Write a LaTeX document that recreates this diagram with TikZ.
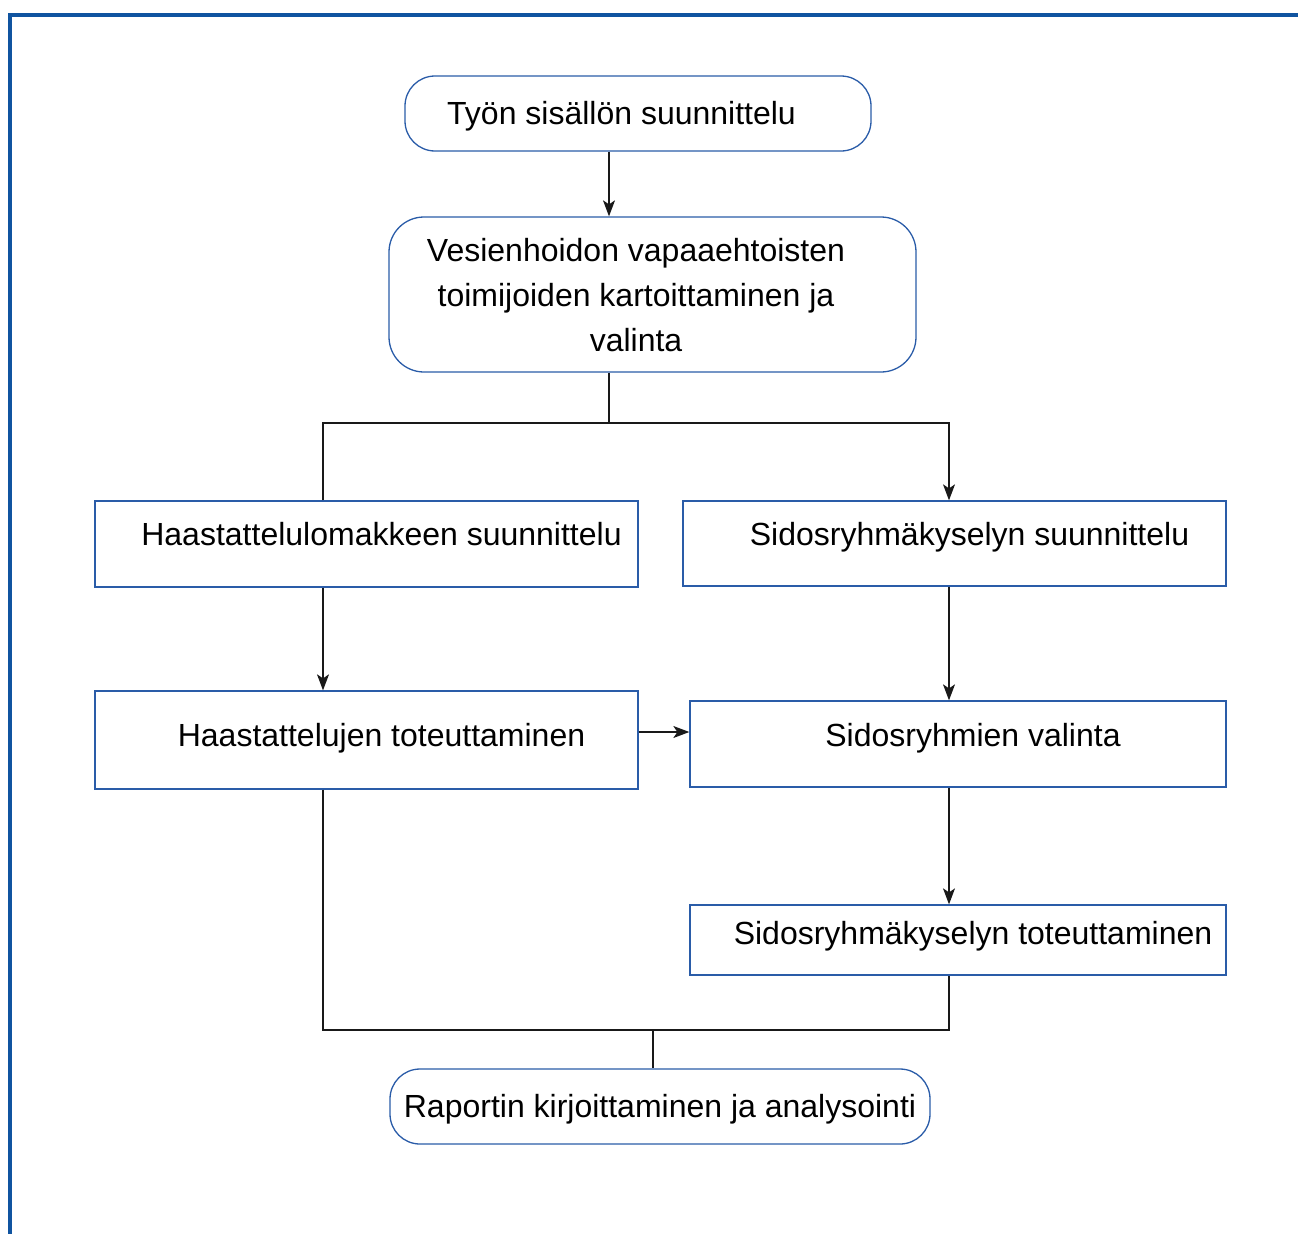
\documentclass[tikz,border=0pt]{standalone}
\usepackage{fontspec}
\setmainfont{Liberation Sans}
\usetikzlibrary{arrows.meta}
\definecolor{frameblue}{RGB}{16,84,160}
\definecolor{boxblue}{RGB}{42,92,168}
\tikzset{
  box/.style={draw=boxblue,line width=1.3pt,rectangle,inner sep=0pt,
    text depth=0pt,font=\fontsize{32}{45}\selectfont},
  roundbox/.style={box,rounded corners=30pt},
  link/.style={line width=1.3pt,black!90},
  >={Stealth[length=16pt,width=12pt,inset=4pt]}
}
\begin{document}
\begin{tikzpicture}[x=1pt,y=-1pt]
\useasboundingbox (0,0) rectangle (1298,1234);
\draw[frameblue,line width=3.5pt] (1298,15)--(10,15)--(10,1234);
% vaiheet
\node[roundbox,minimum width=466pt,minimum height=75pt,text height=22pt] (n1) at (638,113.5) {Työn sisällön suunnittelu\rule{33pt}{0pt}};
\node[roundbox,rounded corners=35pt,minimum width=527pt,minimum height=155pt,text height=19.4pt] (n2) at (652.5,294.5)
  {\begin{tabular}{@{}c@{}}Vesienhoidon vapaaehtoisten\\toimijoiden kartoittaminen ja\\valinta\end{tabular}\rule{33pt}{0pt}};
\node[box,minimum width=543pt,minimum height=86pt,text height=2pt] (n3) at (366.5,544) {\hspace{30pt}Haastattelulomakkeen suunnittelu};
\node[box,minimum width=543pt,minimum height=85pt,text height=3pt] (n4) at (954.5,543.5) {\hspace{30pt}Sidosryhmäkyselyn suunnittelu};
\node[box,minimum width=543pt,minimum height=98pt,text height=12pt] (n5) at (366.5,740) {\hspace{30pt}Haastattelujen toteuttaminen};
\node[box,minimum width=536pt,minimum height=86pt,text height=4pt] (n6) at (958,744) {\hspace{30pt}Sidosryhmien valinta};
\node[box,minimum width=536pt,minimum height=70pt,text height=8pt] (n7) at (958,940) {\hspace{30pt}Sidosryhmäkyselyn toteuttaminen};
\node[roundbox,minimum width=540pt,minimum height=75pt,text height=22pt] (n8) at (660,1106.5) {Raportin kirjoittaminen ja analysointi};
% haarat
\coordinate (split) at (609,423);
\coordinate (join) at (653,1030);
\coordinate (xl) at (323,0);
\coordinate (xr) at (949,0);
\draw[link,->] (n1.south -| split)--(n2.north -| split);
\draw[link] (n2.south -| split)--(split);
\draw[link,->] (n3.north -| xl) |- (split) -| (n4.north -| xr);
\draw[link,->] (n3.south -| xl)--(n5.north -| xl);
\draw[link,->] (n4.south -| xr)--(n6.north -| xr);
\draw[link,->] ([yshift=8pt]n5.east)--([yshift=8pt]n5.east -| n6.west);
\draw[link,->] (n6.south -| xr)--(n7.north -| xr);
\draw[link] (n5.south -| xl) |- (join) -| (n7.south -| xr);
\draw[link] (join)--(n8.north -| join);
\end{tikzpicture}
\end{document}
